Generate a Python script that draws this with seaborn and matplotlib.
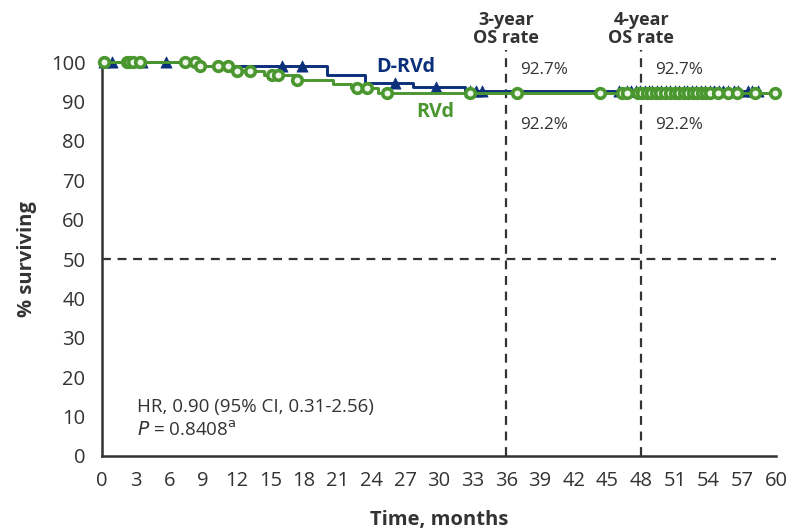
import numpy as np
import pandas as pd
import matplotlib
matplotlib.use("Agg")
import matplotlib.pyplot as plt
import seaborn as sns

# Kaplan-Meier step functions (time in months, % surviving)
drvd_times = [0.0, 8.8, 20.0, 23.4, 27.7, 32.3, 58.6]
drvd_surv = [100.0, 98.9, 96.8, 94.7, 93.7, 92.7, 92.7]
rvd_times = [0.0, 8.5, 11.5, 14.4, 17.2, 20.6, 22.2, 24.6, 59.9]
rvd_surv = [100.0, 98.9, 97.6, 96.6, 95.4, 94.3, 93.5, 92.2, 92.2]

# Censoring times
drvd_censor = [0.2, 0.9, 3.6, 5.7, 16.0, 17.8, 26.1, 29.7, 32.8, 33.3, 33.8,
               46.0, 46.7, 47.1, 47.5, 47.9, 48.3, 48.7, 49.0, 49.4, 49.8,
               50.2, 50.6, 51.0, 51.4, 51.8, 52.1, 52.5, 52.9, 53.3, 53.7,
               54.1, 54.5, 54.9, 55.3, 55.7, 56.3, 56.6, 57.5, 57.9, 58.4]
rvd_censor = [0.2, 2.2, 2.4, 2.8, 3.4, 7.4, 8.3, 8.7, 10.3, 11.2, 12.0, 13.2,
              15.1, 15.7, 17.4, 22.7, 23.6, 25.4, 32.8, 36.9, 44.3, 46.3,
              46.7, 47.7, 48.1, 48.5, 48.9, 49.3, 49.7, 50.1, 50.6, 51.0,
              51.4, 51.8, 52.2, 52.6, 53.0, 53.4, 53.8, 54.1, 54.8, 55.7,
              56.5, 58.1, 59.9]

rate_times = [36, 48]
drvd_rate = 92.7
rvd_rate = 92.2
xticks = list(range(0, 61, 3))
yticks = list(range(0, 101, 10))

NAVY = "#0b2f7a"
GREEN = "#4a962f"
INK = "#333333"


def step_value(times, surv, t):
    idx = np.searchsorted(np.asarray(times), t, side="right") - 1
    return np.asarray(surv)[idx]


sns.set_theme(style="white")
plt.rcParams["font.family"] = ["Open Sans", "DejaVu Sans"]
plt.rcParams["text.color"] = INK

fig = plt.figure(figsize=(8.12, 5.32), dpi=100)
ax = fig.add_axes([0.1256, 0.1429, 0.8301, 0.7627])

drvd_df = pd.DataFrame({"t": drvd_times, "s": drvd_surv})
rvd_df = pd.DataFrame({"t": rvd_times, "s": rvd_surv})
drvd_c = pd.DataFrame({"t": drvd_censor,
                       "s": [step_value(drvd_times, drvd_surv, t) for t in drvd_censor]})
rvd_c = pd.DataFrame({"t": rvd_censor,
                      "s": [step_value(rvd_times, rvd_surv, t) for t in rvd_censor]})

# Reference lines
ax.axhline(50, color=INK, lw=1.6, ls=(0, (4, 3)), zorder=1)
for t in rate_times:
    ax.plot([t, t], [0, 103], color=INK, lw=1.6, ls=(0, (4, 3)), zorder=1,
            clip_on=False)

sns.lineplot(data=drvd_df, x="t", y="s", drawstyle="steps-post", color=NAVY,
             lw=2.1, estimator=None, ax=ax, zorder=3, clip_on=False)
sns.scatterplot(data=drvd_c, x="t", y="s", marker="^", s=65, color=NAVY,
                edgecolor=NAVY, linewidth=0.5, ax=ax, zorder=4, clip_on=False)
sns.lineplot(data=rvd_df, x="t", y="s", drawstyle="steps-post", color=GREEN,
             lw=2.1, estimator=None, ax=ax, zorder=5, clip_on=False)
sns.scatterplot(data=rvd_c, x="t", y="s", marker="o", s=48, facecolor="#eef5ea",
                edgecolor=GREEN, linewidth=2.6, ax=ax, zorder=6, clip_on=False)

ax.set_xlim(0, 60)
ax.set_ylim(0, 103)
ax.set_xticks(xticks)
ax.set_yticks(yticks)
ax.spines["left"].set_bounds(0, 100)
for side in ("top", "right"):
    ax.spines[side].set_visible(False)
for side in ("left", "bottom"):
    ax.spines[side].set_color(INK)
    ax.spines[side].set_linewidth(1.8)
ax.tick_params(axis="both", colors=INK, labelsize=14.5, width=1.8, length=5,
               labelcolor=INK)
ax.tick_params(axis="y", pad=7)
ax.tick_params(axis="x", pad=6)

ax.set_xlabel("Time, months", fontsize=14.5, fontweight="bold", color=INK)
ax.set_ylabel("% surviving", fontsize=14.5, fontweight="bold", color=INK)
ax.xaxis.set_label_coords(0.5, -0.132)
ax.yaxis.set_label_coords(-0.097, 0.485)

# Landmark annotations
for t, yr in zip(rate_times, ["3-year", "4-year"]):
    ax.text(t, 108.4, f"{yr}\nOS rate", ha="center", va="center", fontsize=13,
            fontweight="bold", color=INK, linespacing=1.0, clip_on=False)
    ax.text(t + 1.2, 98.0, f"{drvd_rate}%", ha="left", va="center",
            fontsize=12.3, color=INK)
    ax.text(t + 1.2, 84.0, f"{rvd_rate}%", ha="left", va="center",
            fontsize=12.3, color=INK)

ax.text(27.0, 98.8, "D-RVd", ha="center", va="center", fontsize=14.2,
        fontweight="bold", color=NAVY)
ax.text(29.7, 87.3, "RVd", ha="center", va="center", fontsize=14.2,
        fontweight="bold", color=GREEN)

ax.text(3.1, 12.4, "HR, 0.90 (95% CI, 0.31-2.56)", ha="left", va="center",
        fontsize=13.5, color=INK)
ax.text(3.1, 6.6, r"$\it{P}$ = 0.8408$^{\rm a}$", ha="left", va="center",
        fontsize=13.5, color=INK)

fig.savefig("out.png", dpi=100)
